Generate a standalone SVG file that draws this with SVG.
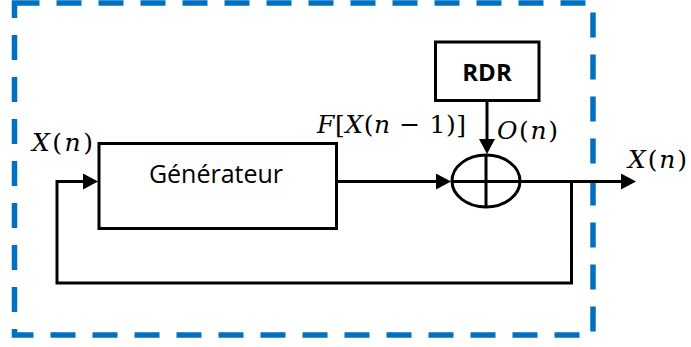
<svg xmlns="http://www.w3.org/2000/svg" width="691" height="347" viewBox="0 0 691 347">
  <style>
    .frame { fill: none; stroke: #0070C0; stroke-width: 5.5; stroke-dasharray: 25 17; }
    .box { fill: #ffffff; stroke: #000000; stroke-width: 3; }
    .wire { fill: none; stroke: #000000; stroke-width: 3; }
    .lbl { font-family: "Open Sans", "Noto Sans", sans-serif; fill: #000000; text-anchor: middle; }
    .math { font-family: "DejaVu Serif", "Liberation Serif", serif; font-size: 25px; fill: #000000; }
    .it { font-style: italic; }
  </style>
  <defs>
    <marker id="arrow" markerUnits="userSpaceOnUse" viewBox="0 0 15 16" refX="7" refY="8" markerWidth="15" markerHeight="16" orient="auto">
      <path d="M0,0 L15,8 L0,16 z" fill="#000000"/>
    </marker>
  </defs>

  <rect id="frame" class="frame" x="14.5" y="3" width="578.5" height="332"/>

  <g id="connectors">
    <!-- Generateur -> adder -->
    <path class="wire" d="M336.5,181.5 H443" marker-end="url(#arrow)"/>
    <!-- RDR -> adder -->
    <path class="wire" d="M487,100.5 V146" marker-end="url(#arrow)"/>
    <!-- adder -> output -->
    <path class="wire" d="M521,181.5 H628" marker-end="url(#arrow)"/>
    <!-- feedback -->
    <path class="wire" d="M571.5,181.5 V283 H57 V181.5 H90" marker-end="url(#arrow)"/>
  </g>

  <g id="generateur">
    <rect class="box" x="99" y="143.5" width="237.5" height="85"/>
    <text class="lbl" x="216" y="182.5" font-size="25">Générateur</text>
  </g>

  <g id="rdr">
    <rect class="box" x="435.5" y="42" width="103.5" height="58.5"/>
    <text class="lbl" x="487" y="81" font-size="24" font-weight="bold">RDR</text>
  </g>

  <g id="adder">
    <ellipse class="wire" cx="486" cy="181" rx="34" ry="26" stroke-width="3.5"/>
    <path class="wire" d="M486,155 V207 M452,181.5 H520"/>
  </g>

  <g id="labels">
    <text class="math" x="32" y="151" textLength="61"><tspan class="it">X</tspan>(<tspan class="it">n</tspan>)</text>
    <text class="math" x="317" y="133" textLength="149"><tspan class="it">F</tspan>[<tspan class="it">X</tspan>(<tspan class="it">n</tspan> − 1)]</text>
    <text class="math" x="497" y="139" textLength="61"><tspan class="it">O</tspan>(<tspan class="it">n</tspan>)</text>
    <text class="math" x="628" y="168" textLength="59"><tspan class="it">X</tspan>(<tspan class="it">n</tspan>)</text>
  </g>
</svg>
